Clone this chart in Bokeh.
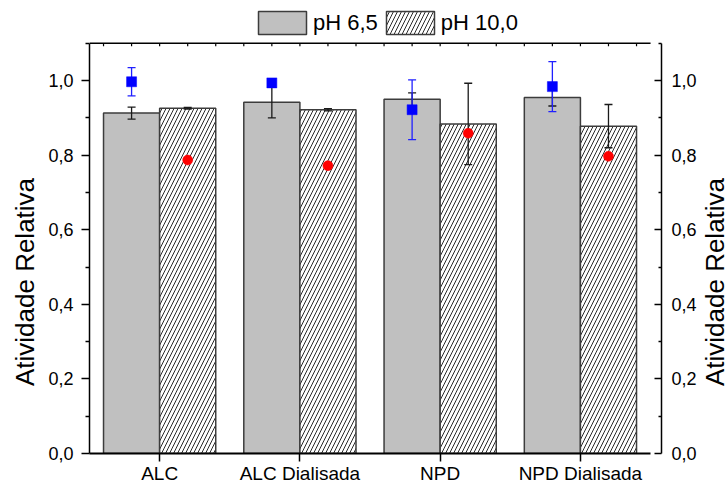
import math
import numpy as np
from bokeh.plotting import figure
from bokeh.layouts import row
from bokeh.core.properties import value
from bokeh.models import (ColumnDataSource, Range1d, LinearAxis, FixedTicker,
                          Legend, LegendItem)
from bokeh.embed import file_html
from bokeh.resources import INLINE

# ---- data -------------------------------------------------------------
categorias = ["ALC", "ALC Dialisada", "NPD", "NPD Dialisada"]

ph65 = [0.913, 0.942, 0.950, 0.955]          # pH 6,5 bars
ph65_err = [0.016, 0.042, 0.017, 0.023]
ph10 = [0.926, 0.922, 0.884, 0.878]          # pH 10,0 bars
ph10_err = [0.002, 0.003, 0.109, 0.058]

azul = [0.997, 0.994, 0.922, 0.984]          # blue squares (pH 6,5)
azul_err = [0.038, 0.004, 0.080, 0.067]
vermelho = [0.787, 0.772, 0.859, 0.797]      # red circles (pH 10,0)
vermelho_err = [0.004, 0.004, 0.004, 0.004]

y_ticks = [0.0, 0.2, 0.4, 0.6, 0.8, 1.0]
y_tick_labels = ["0,0", "0,2", "0,4", "0,6", "0,8", "1,0"]
legend_labels = ["pH 6,5", "pH 10,0"]
y_title = "Atividade Relativa"

FONT = "Liberation Sans"
INK = "#1a1a1a"

# ---- geometry ---------------------------------------------------------
PAGE_W, PAGE_H = 728, 486
LEFT_W, RIGHT_W = 45, 28     # strips holding the rotated axis titles
PX_PER_UNIT = 374.5          # vertical pixels per unit of activity
FRAME_H = 455                # frame runs from the top of the page down to y = 0
Y_AXIS_MAX = 1.1             # top of the boxed plot area
X_LO, X_HI, X_EDGE = 0.5, 4.5, 4.578
TITLE_Y = PAGE_H - 302       # anchor of the rotated axis titles, from the page bottom

pos = np.arange(1, len(categorias) + 1, dtype=float)
off = 0.2
bar_w = 0.4

def arr(v):
    return np.asarray(v, dtype=float)

src = ColumnDataSource(dict(
    x65=pos - off, x10=pos + off,
    ph65=arr(ph65), ph10=arr(ph10),
    lo65=arr(ph65) - arr(ph65_err), hi65=arr(ph65) + arr(ph65_err),
    lo10=arr(ph10) - arr(ph10_err), hi10=arr(ph10) + arr(ph10_err),
    azul=arr(azul), lo_az=arr(azul) - arr(azul_err), hi_az=arr(azul) + arr(azul_err),
    verm=arr(vermelho), lo_vm=arr(vermelho) - arr(vermelho_err),
    hi_vm=arr(vermelho) + arr(vermelho_err),
))

p = figure(width=PAGE_W - LEFT_W - RIGHT_W, height=PAGE_H,
           x_range=Range1d(X_LO, X_EDGE), y_range=Range1d(0.0, FRAME_H / PX_PER_UNIT),
           output_backend="svg", toolbar_location=None,
           min_border_left=88 - LEFT_W, min_border_right=PAGE_W - RIGHT_W - 661,
           min_border_top=0, min_border_bottom=31)
p.outline_line_color = None
p.grid.visible = False
p.background_fill_color = "white"
p.border_fill_color = "white"

# ---- bars -------------------------------------------------------------
r65 = p.vbar(x="x65", top="ph65", width=bar_w, source=src,
             fill_color="#c0c0c0", line_color="#3c3c3c", line_width=1.5)
r10 = p.vbar(x="x10", top="ph10", width=bar_w, source=src,
             fill_color="white", hatch_pattern="/", hatch_color="#2a2a2a",
             hatch_scale=8, hatch_weight=1.0,
             line_color="#3c3c3c", line_width=1.5)

# bar error bars
for xc, lo, hi in (("x65", "lo65", "hi65"), ("x10", "lo10", "hi10")):
    p.segment(x0=xc, y0=lo, x1=xc, y1=hi, source=src, line_color=INK, line_width=1.3)
    p.scatter(x=xc, y=lo, marker="dash", size=8, source=src, line_color=INK, line_width=1.3)
    p.scatter(x=xc, y=hi, marker="dash", size=8, source=src, line_color=INK, line_width=1.3)

# blue squares with error bars
p.segment(x0="x65", y0="lo_az", x1="x65", y1="hi_az", source=src,
          line_color="#2020ff", line_width=1.3)
p.scatter(x="x65", y="lo_az", marker="dash", size=8, source=src, line_color="#2020ff", line_width=1.3)
p.scatter(x="x65", y="hi_az", marker="dash", size=8, source=src, line_color="#2020ff", line_width=1.3)
p.scatter(x="x65", y="azul", marker="square", size=10, source=src,
          fill_color="#0000ff", line_color="#0000ff", line_width=0.5)

# red circles with error bars
p.segment(x0="x10", y0="lo_vm", x1="x10", y1="hi_vm", source=src,
          line_color="#ff2020", line_width=1.3)
p.scatter(x="x10", y="lo_vm", marker="dash", size=8, source=src, line_color="#ff2020", line_width=1.3)
p.scatter(x="x10", y="hi_vm", marker="dash", size=8, source=src, line_color="#ff2020", line_width=1.3)
p.scatter(x="x10", y="verm", marker="circle", size=10, source=src,
          fill_color="#ff0000", line_color="#ff0000", line_width=0.5)

# ---- top edge of the box, with short inward ticks ----------------------
top_ticks = [round(v, 1) for v in np.arange(0.6, 4.45, 0.2)]
p.segment(x0=[X_LO], y0=[Y_AXIS_MAX], x1=[X_HI], y1=[Y_AXIS_MAX],
          line_color="black", line_width=1.5)
p.segment(x0=top_ticks, y0=[Y_AXIS_MAX] * len(top_ticks),
          x1=top_ticks, y1=[Y_AXIS_MAX - 3 / PX_PER_UNIT] * len(top_ticks),
          line_color="black", line_width=1.2)

# ---- axes -------------------------------------------------------------
y_minor = [0.1, 0.3, 0.5, 0.7, 0.9, 1.1]
y_over = dict(zip(y_ticks, y_tick_labels))

xa = p.xaxis[0]
xa.ticker = FixedTicker(ticks=list(pos))
xa.major_label_overrides = {int(k): v for k, v in zip(pos, categorias)}
xa.bounds = (X_LO, X_HI)
xa.major_tick_in = 0
xa.major_tick_out = 8
xa.minor_tick_line_color = None
xa.major_label_standoff = 1
xa.major_label_text_font = FONT
xa.major_label_text_font_size = "19px"
xa.major_label_text_color = "black"
xa.axis_line_width = 2
xa.major_tick_line_width = 1.5
xa.axis_line_color = "black"

ya = p.yaxis[0]
ya.ticker = FixedTicker(ticks=y_ticks, minor_ticks=y_minor)
ya.major_label_overrides = y_over
ya.major_tick_in = 0
ya.major_tick_out = 8
ya.minor_tick_in = 0
ya.minor_tick_out = 4
ya.major_label_standoff = 8

yr = LinearAxis(ticker=FixedTicker(ticks=y_ticks, minor_ticks=y_minor),
                major_label_overrides=y_over)
yr.major_tick_in = 7
yr.major_tick_out = 0
yr.minor_tick_in = 3
yr.minor_tick_out = 0
yr.major_label_standoff = 10
p.add_layout(yr, "right")

for ax in (ya, yr):
    ax.bounds = (0.0, Y_AXIS_MAX)
    ax.major_label_text_font = FONT
    ax.major_label_text_font_size = "18px"
    ax.major_label_text_color = "black"
    ax.axis_line_width = 1.5
    ax.axis_line_color = "black"
    ax.major_tick_line_width = 1.5
    ax.minor_tick_line_width = 1.5
    ax.major_tick_line_color = "black"
    ax.minor_tick_line_color = "black"

# ---- legend -----------------------------------------------------------
legend = Legend(items=[LegendItem(label=legend_labels[0], renderers=[r65]),
                       LegendItem(label=legend_labels[1], renderers=[r10])],
                orientation="horizontal", location=(163, 416),
                glyph_width=60, glyph_height=29, label_standoff=1, spacing=2,
                padding=0, margin=0, border_line_color=None,
                background_fill_alpha=0, label_text_font=FONT,
                label_text_font_size="22px", label_text_color="black")
p.add_layout(legend, "center")

# ---- side strips with the rotated axis titles -------------------------
def title_strip(width, center_x):
    s = figure(width=width, height=PAGE_H, x_range=Range1d(0, width),
               y_range=Range1d(0, PAGE_H), x_axis_type=None, y_axis_type=None,
               output_backend="svg", toolbar_location=None, min_border=0)
    s.outline_line_color = None
    s.grid.visible = False
    s.background_fill_color = "white"
    s.border_fill_color = "white"
    s.text(x=[center_x], y=[TITLE_Y], text=[y_title], angle=math.pi / 2,
           text_align="center", text_baseline="middle",
           text_font=value(FONT), text_font_size="26px", text_color="black")
    return s

left_strip = title_strip(LEFT_W, 24)
right_strip = title_strip(RIGHT_W, 14)

page = row(left_strip, p, right_strip, spacing=0)
open("out.html", "w").write(file_html(page, INLINE))
